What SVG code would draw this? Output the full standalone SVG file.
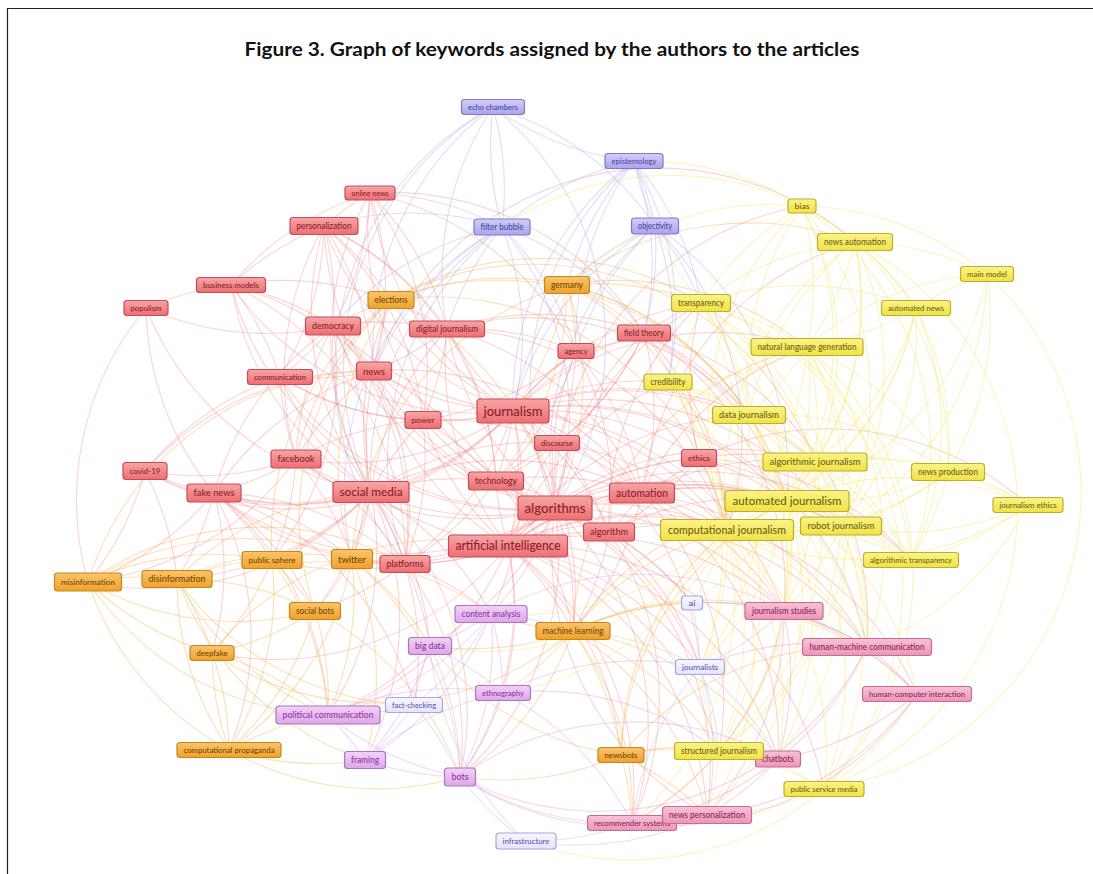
<svg xmlns="http://www.w3.org/2000/svg" width="1093" height="874" viewBox="0 0 1093 874">
<style>
.e path{fill:none;stroke-width:1.15}
.er path{stroke:#f27c7c;stroke-opacity:.32}
.eo path{stroke:#f6b04a;stroke-opacity:.38}
.ey path{stroke:#f5e766;stroke-opacity:.4}
.eb path{stroke:#aaa4e6;stroke-opacity:.35}
.el path{stroke:#c8c4f0;stroke-opacity:.45}
.ev path{stroke:#dc9ee8;stroke-opacity:.38}
.ep path{stroke:#ec92b6;stroke-opacity:.38}
.n rect{stroke-width:1.2}
.n text{font-family:Lato,"Open Sans","Liberation Sans",sans-serif;text-anchor:middle;font-weight:500}
.r rect{fill:url(#gR);stroke:#c94a58}.r text{fill:#8c1c2e}
.o rect{fill:url(#gO);stroke:#c7861a}.o text{fill:#744306}
.y rect{fill:url(#gY);stroke:#bfae2a}.y text{fill:#6b6310}
.b rect{fill:url(#gB);stroke:#7f78d0}.b text{fill:#4a43a6}
.l rect{fill:url(#gL);stroke:#a9a4de}.l text{fill:#5b55b5}
.v rect{fill:url(#gV);stroke:#ad72c0}.v text{fill:#8a35a2}
.p rect{fill:url(#gP);stroke:#cc6993}.p text{fill:#8e2453}
</style>
<defs>
<linearGradient id="gR" x1="0" y1="0" x2="0" y2="1"><stop offset="0" stop-color="#f7a6a6"/><stop offset="1" stop-color="#ec6f73"/></linearGradient>
<linearGradient id="gO" x1="0" y1="0" x2="0" y2="1"><stop offset="0" stop-color="#f9c56c"/><stop offset="1" stop-color="#f0a22c"/></linearGradient>
<linearGradient id="gY" x1="0" y1="0" x2="0" y2="1"><stop offset="0" stop-color="#faf388"/><stop offset="1" stop-color="#f1e248"/></linearGradient>
<linearGradient id="gB" x1="0" y1="0" x2="0" y2="1"><stop offset="0" stop-color="#d2cef7"/><stop offset="1" stop-color="#aba5ea"/></linearGradient>
<linearGradient id="gL" x1="0" y1="0" x2="0" y2="1"><stop offset="0" stop-color="#f8f7fe"/><stop offset="1" stop-color="#e5e3f8"/></linearGradient>
<linearGradient id="gV" x1="0" y1="0" x2="0" y2="1"><stop offset="0" stop-color="#f3d2f7"/><stop offset="1" stop-color="#dea6e9"/></linearGradient>
<linearGradient id="gP" x1="0" y1="0" x2="0" y2="1"><stop offset="0" stop-color="#f7c3d8"/><stop offset="1" stop-color="#ec96b9"/></linearGradient>
</defs>
<rect width="1093" height="874" fill="#fff"/>
<path d="M7.5 874V8.5H1093" fill="none" stroke="#222" stroke-width="1.2"/>
<text x="552" y="56" font-family="Lato,'Liberation Sans',sans-serif" font-weight="bold" font-size="19" text-anchor="middle" textLength="615" lengthAdjust="spacingAndGlyphs" fill="#111">Figure 3. Graph of keywords assigned by the authors to the articles</text>
<g id="connectors" class="e">
<g class="er">
<path d="M513 411A300 300 0 0 1 555 508"/><path d="M513 411A300 300 0 0 1 508 546"/><path d="M513 411A300 300 0 0 1 371 492"/><path d="M513 411A300 300 0 0 1 496 481"/><path d="M513 411A300 300 0 0 1 557 443"/><path d="M513 411A300 300 0 0 1 423 420"/><path d="M513 411A300 300 0 0 1 374 371"/><path d="M513 411A300 300 0 0 1 333 326"/><path d="M513 411A300 300 0 0 1 447 329"/><path d="M513 411A300 300 0 0 1 324 226"/><path d="M513 411A300 300 0 0 1 370 193"/><path d="M513 411A300 300 0 0 1 644 333"/><path d="M513 411A300 300 0 0 1 576 351"/><path d="M513 411A300 300 0 0 1 699 458"/><path d="M513 411A300 300 0 0 1 642 493"/><path d="M513 411A300 300 0 0 1 609 532"/><path d="M513 411A300 300 0 0 1 787 501"/><path d="M513 411A300 300 0 0 1 727 530"/><path d="M513 411A300 300 0 0 1 815 462"/><path d="M513 411A300 300 0 0 1 749 415"/><path d="M513 411A300 300 0 0 1 668 382"/><path d="M513 411A300 300 0 0 1 701 303"/><path d="M513 411A300 300 0 0 1 296 459"/><path d="M513 411A300 300 0 0 1 214 493"/><path d="M513 411A300 300 0 0 1 405 564"/><path d="M513 411A300 300 0 0 1 280 377"/><path d="M513 411A300 300 0 0 1 231 285"/><path d="M513 411A300 300 0 0 1 145 471"/><path d="M513 411A300 300 0 0 1 391 300"/><path d="M513 411A300 300 0 0 1 567 285"/><path d="M513 411A300 300 0 0 1 573 631"/><path d="M513 411A300 300 0 0 1 491 614"/><path d="M513 411A300 300 0 0 1 700 667"/><path d="M513 411A300 300 0 0 1 784 611"/><path d="M513 411A300 300 0 0 1 867 647"/><path d="M513 411A300 300 0 0 1 841 526"/><path d="M513 411A300 300 0 0 1 807 347"/>
<path d="M555 508A300 300 0 0 1 371 492"/><path d="M555 508A300 300 0 0 1 496 481"/><path d="M555 508A300 300 0 0 1 642 493"/><path d="M555 508A300 300 0 0 1 609 532"/><path d="M555 508A300 300 0 0 1 423 420"/><path d="M555 508A300 300 0 0 1 374 371"/><path d="M555 508A300 300 0 0 1 333 326"/><path d="M555 508A300 300 0 0 1 324 226"/><path d="M555 508A300 300 0 0 1 296 459"/><path d="M555 508A300 300 0 0 1 214 493"/><path d="M555 508A300 300 0 0 1 405 564"/><path d="M555 508A300 300 0 0 1 352 559"/><path d="M555 508A300 300 0 0 1 692 603"/><path d="M555 508A300 300 0 0 1 700 667"/><path d="M555 508A300 300 0 0 1 573 631"/><path d="M555 508A300 300 0 0 1 787 501"/><path d="M555 508A300 300 0 0 1 727 530"/><path d="M555 508A300 300 0 0 1 699 458"/><path d="M555 508A300 300 0 0 1 557 443"/><path d="M555 508A300 300 0 0 1 644 333"/><path d="M555 508A300 300 0 0 1 576 351"/><path d="M555 508A300 300 0 0 1 447 329"/><path d="M555 508A300 300 0 0 1 370 193"/><path d="M555 508A300 300 0 0 1 231 285"/><path d="M555 508A300 300 0 0 1 280 377"/><path d="M555 508A300 300 0 0 1 491 614"/><path d="M555 508A300 300 0 0 1 430 646"/><path d="M555 508A300 300 0 0 1 460 777"/><path d="M555 508A300 300 0 0 1 632 823"/><path d="M555 508A300 300 0 0 1 707 815"/><path d="M555 508A300 300 0 0 1 784 611"/><path d="M555 508A300 300 0 0 1 911 560"/><path d="M555 508A300 300 0 0 1 701 303"/><path d="M555 508A300 300 0 0 1 802 206"/>
<path d="M508 546A300 300 0 0 1 642 493"/><path d="M508 546A300 300 0 0 1 609 532"/><path d="M508 546A300 300 0 0 1 496 481"/><path d="M508 546A300 300 0 0 1 371 492"/><path d="M508 546A300 300 0 0 1 405 564"/><path d="M508 546A300 300 0 0 1 573 631"/><path d="M508 546A300 300 0 0 1 699 458"/><path d="M508 546A300 300 0 0 1 787 501"/><path d="M508 546A300 300 0 0 1 727 530"/><path d="M508 546A300 300 0 0 1 841 526"/><path d="M508 546A300 300 0 0 1 867 647"/><path d="M508 546A300 300 0 0 1 917 694"/><path d="M508 546A300 300 0 0 1 778 759"/><path d="M508 546A300 300 0 0 1 784 611"/><path d="M508 546A300 300 0 0 1 700 667"/><path d="M508 546A300 300 0 0 1 621 755"/><path d="M508 546A300 300 0 0 1 212 653"/><path d="M508 546A300 300 0 0 1 214 493"/><path d="M508 546A300 300 0 0 1 557 443"/><path d="M508 546A300 300 0 0 1 374 371"/><path d="M508 546A300 300 0 0 1 423 420"/><path d="M508 546A300 300 0 0 1 447 329"/><path d="M508 546A300 300 0 0 1 503 693"/><path d="M508 546A300 300 0 0 1 328 715"/><path d="M508 546A300 300 0 0 1 460 777"/><path d="M508 546A300 300 0 0 1 632 823"/><path d="M508 546A300 300 0 0 1 707 815"/><path d="M508 546A300 300 0 0 1 719 751"/><path d="M508 546A300 300 0 0 1 824 789"/><path d="M508 546A300 300 0 0 1 815 462"/><path d="M508 546A300 300 0 0 1 749 415"/><path d="M508 546A300 300 0 0 1 668 382"/>
<path d="M371 492A300 300 0 0 1 296 459"/><path d="M371 492A300 300 0 0 1 214 493"/><path d="M371 492A300 300 0 0 1 352 559"/><path d="M371 492A300 300 0 0 1 405 564"/><path d="M371 492A300 300 0 0 1 374 371"/><path d="M371 492A300 300 0 0 1 333 326"/><path d="M371 492A300 300 0 0 1 423 420"/><path d="M371 492A300 300 0 0 1 280 377"/><path d="M371 492A300 300 0 0 1 272 560"/><path d="M371 492A300 300 0 0 1 88 582"/><path d="M371 492A300 300 0 0 1 177 579"/><path d="M371 492A300 300 0 0 1 315 611"/><path d="M371 492A300 300 0 0 1 145 471"/><path d="M371 492A300 300 0 0 1 146 308"/><path d="M371 492A300 300 0 0 1 231 285"/><path d="M371 492A300 300 0 0 1 391 300"/><path d="M371 492A300 300 0 0 1 324 226"/><path d="M371 492A300 300 0 0 1 370 193"/><path d="M371 492A300 300 0 0 1 447 329"/><path d="M371 492A300 300 0 0 1 491 614"/><path d="M371 492A300 300 0 0 1 430 646"/><path d="M371 492A300 300 0 0 1 328 715"/><path d="M371 492A300 300 0 0 1 460 777"/><path d="M371 492A300 300 0 0 1 365 760"/><path d="M371 492A300 300 0 0 1 414 705"/><path d="M371 492A300 300 0 0 1 496 481"/><path d="M371 492A300 300 0 0 1 642 493"/><path d="M371 492A300 300 0 0 1 557 443"/>
<path d="M296 459A300 300 0 0 1 214 493"/><path d="M296 459A300 300 0 0 1 352 559"/><path d="M296 459A300 300 0 0 1 374 371"/><path d="M296 459A300 300 0 0 1 333 326"/><path d="M296 459A300 300 0 0 1 145 471"/><path d="M296 459A300 300 0 0 1 280 377"/><path d="M296 459A300 300 0 0 1 324 226"/><path d="M296 459A300 300 0 0 1 88 582"/><path d="M296 459A300 300 0 0 1 391 300"/><path d="M296 459A300 300 0 0 1 272 560"/><path d="M296 459A300 300 0 0 1 405 564"/><path d="M296 459A300 300 0 0 1 423 420"/>
<path d="M214 493A300 300 0 0 1 145 471"/><path d="M214 493A300 300 0 0 1 88 582"/><path d="M214 493A300 300 0 0 1 177 579"/><path d="M214 493A300 300 0 0 1 352 559"/><path d="M214 493A300 300 0 0 1 212 653"/><path d="M214 493A300 300 0 0 1 315 611"/><path d="M214 493A300 300 0 0 1 272 560"/><path d="M214 493A300 300 0 0 1 374 371"/><path d="M214 493A300 300 0 0 1 333 326"/><path d="M214 493A300 300 0 0 1 146 308"/><path d="M214 493A300 300 0 0 1 414 705"/><path d="M214 493A300 300 0 0 1 328 715"/><path d="M214 493A300 300 0 0 1 229 750"/><path d="M214 493A300 300 0 0 1 405 564"/>
<path d="M145 471A300 300 0 0 1 88 582"/><path d="M145 471A300 300 0 0 1 177 579"/><path d="M145 471A300 300 0 0 1 280 377"/><path d="M145 471A300 300 0 0 1 374 371"/>
<path d="M146 308A300 300 0 0 1 231 285"/><path d="M333 326A300 300 0 0 1 146 308"/><path d="M146 308A300 300 0 0 0 88 582"/>
<path d="M231 285A300 300 0 0 1 324 226"/><path d="M231 285A300 300 0 0 1 374 371"/><path d="M231 285A300 300 0 0 1 280 377"/><path d="M231 285A300 300 0 0 1 333 326"/><path d="M231 285A300 300 0 0 1 370 193"/><path d="M231 285A300 300 0 0 1 447 329"/><path d="M231 285A300 300 0 0 1 405 564"/>
<path d="M324 226A300 300 0 0 1 370 193"/><path d="M324 226A300 300 0 0 1 333 326"/><path d="M324 226A300 300 0 0 1 374 371"/><path d="M324 226A300 300 0 0 1 447 329"/><path d="M324 226A300 300 0 0 1 391 300"/><path d="M324 226A300 300 0 0 1 280 377"/><path d="M324 226A300 300 0 0 1 423 420"/><path d="M324 226A300 300 0 0 1 496 481"/>
<path d="M370 193A300 300 0 0 1 447 329"/><path d="M370 193A300 300 0 0 1 374 371"/><path d="M370 193A300 300 0 0 1 333 326"/><path d="M370 193A300 300 0 0 1 576 351"/><path d="M370 193A300 300 0 0 1 644 333"/><path d="M370 193A300 300 0 0 1 423 420"/>
<path d="M333 326A300 300 0 0 1 374 371"/><path d="M333 326A300 300 0 0 1 391 300"/><path d="M333 326A300 300 0 0 1 447 329"/><path d="M333 326A300 300 0 0 1 405 564"/><path d="M333 326A300 300 0 0 1 272 560"/><path d="M333 326A300 300 0 0 1 280 377"/><path d="M333 326A300 300 0 0 1 352 559"/>
<path d="M447 329A300 300 0 0 1 374 371"/><path d="M447 329A300 300 0 0 1 644 333"/><path d="M447 329A300 300 0 0 1 576 351"/><path d="M447 329A300 300 0 0 1 496 481"/><path d="M447 329A300 300 0 0 1 642 493"/><path d="M447 329A300 300 0 0 1 749 415"/><path d="M447 329A300 300 0 0 1 727 530"/><path d="M447 329A300 300 0 0 1 423 420"/>
<path d="M374 371A300 300 0 0 1 423 420"/><path d="M374 371A300 300 0 0 1 496 481"/><path d="M374 371A300 300 0 0 1 405 564"/><path d="M374 371A300 300 0 0 1 391 300"/><path d="M374 371A300 300 0 0 1 280 377"/><path d="M374 371A300 300 0 0 1 855 242"/><path d="M374 371A300 300 0 0 1 642 493"/>
<path d="M644 333A300 300 0 0 1 576 351"/><path d="M644 333A300 300 0 0 1 642 493"/><path d="M644 333A300 300 0 0 1 727 530"/><path d="M644 333A300 300 0 0 1 787 501"/><path d="M644 333A300 300 0 0 1 749 415"/><path d="M644 333A300 300 0 0 1 699 458"/><path d="M644 333A300 300 0 0 1 701 303"/><path d="M644 333A300 300 0 0 1 867 647"/><path d="M644 333A300 300 0 0 1 784 611"/><path d="M644 333A300 300 0 0 1 557 443"/><path d="M644 333A300 300 0 0 1 496 481"/>
<path d="M576 351A300 300 0 0 1 642 493"/><path d="M576 351A300 300 0 0 1 496 481"/><path d="M576 351A300 300 0 0 1 423 420"/><path d="M576 351A300 300 0 0 1 557 443"/><path d="M576 351A300 300 0 0 1 609 532"/>
<path d="M423 420A300 300 0 0 1 496 481"/><path d="M423 420A300 300 0 0 1 405 564"/><path d="M423 420A300 300 0 0 1 557 443"/><path d="M423 420A300 300 0 0 1 280 377"/>
<path d="M496 481A300 300 0 0 1 642 493"/><path d="M496 481A300 300 0 0 1 609 532"/><path d="M496 481A300 300 0 0 1 557 443"/><path d="M496 481A300 300 0 0 1 405 564"/><path d="M496 481A300 300 0 0 1 573 631"/>
<path d="M557 443A300 300 0 0 1 642 493"/><path d="M557 443A300 300 0 0 1 727 530"/><path d="M557 443A300 300 0 0 1 609 532"/>
<path d="M699 458A300 300 0 0 1 642 493"/><path d="M699 458A300 300 0 0 1 787 501"/><path d="M699 458A300 300 0 0 1 815 462"/><path d="M699 458A300 300 0 0 1 727 530"/><path d="M699 458A300 300 0 0 1 701 303"/><path d="M699 458A300 300 0 0 1 911 560"/><path d="M699 458A300 300 0 0 1 1028 505"/><path d="M699 458A300 300 0 0 1 841 526"/><path d="M699 458A300 300 0 0 1 609 532"/>
<path d="M642 493A300 300 0 0 1 609 532"/><path d="M642 493A300 300 0 0 1 787 501"/><path d="M642 493A300 300 0 0 1 727 530"/><path d="M642 493A300 300 0 0 1 841 526"/><path d="M642 493A300 300 0 0 1 815 462"/><path d="M642 493A300 300 0 0 1 807 347"/><path d="M642 493A300 300 0 0 1 855 242"/><path d="M642 493A300 300 0 0 1 784 611"/><path d="M642 493A300 300 0 0 1 867 647"/><path d="M642 493A300 300 0 0 1 778 759"/><path d="M642 493A300 300 0 0 1 719 751"/><path d="M642 493A300 300 0 0 1 573 631"/>
<path d="M609 532A300 300 0 0 1 727 530"/><path d="M609 532A300 300 0 0 1 787 501"/><path d="M609 532A300 300 0 0 1 573 631"/><path d="M609 532A300 300 0 0 1 692 603"/><path d="M609 532A300 300 0 0 1 700 667"/><path d="M609 532A300 300 0 0 1 632 823"/><path d="M609 532A300 300 0 0 1 701 303"/>
<path d="M405 564A300 300 0 0 1 352 559"/><path d="M405 564A300 300 0 0 1 272 560"/><path d="M405 564A300 300 0 0 1 315 611"/><path d="M405 564A300 300 0 0 1 491 614"/><path d="M405 564A300 300 0 0 1 430 646"/><path d="M405 564A300 300 0 0 1 460 777"/>
<path d="M707 815A300 300 0 0 1 555 508"/>
</g>
<g class="eo">
<path d="M88 582A300 300 0 0 1 177 579"/><path d="M88 582A300 300 0 0 0 212 653"/><path d="M88 582A300 300 0 0 1 272 560"/><path d="M88 582A300 300 0 0 1 352 559"/><path d="M88 582A300 300 0 0 0 315 611"/><path d="M88 582A300 300 0 0 0 229 750"/><path d="M88 582A300 300 0 0 0 414 705"/><path d="M88 582A300 300 0 0 1 405 564"/><path d="M88 582A300 300 0 0 1 374 371"/>
<path d="M177 579A300 300 0 0 1 212 653"/><path d="M177 579A300 300 0 0 1 352 559"/><path d="M177 579A300 300 0 0 1 272 560"/><path d="M177 579A300 300 0 0 1 315 611"/><path d="M177 579A300 300 0 0 0 229 750"/><path d="M177 579A300 300 0 0 0 328 715"/><path d="M177 579A300 300 0 0 0 365 760"/><path d="M177 579A300 300 0 0 0 414 705"/><path d="M177 579A300 300 0 0 1 371 492"/>
<path d="M352 559A300 300 0 0 1 272 560"/><path d="M352 559A300 300 0 0 1 315 611"/><path d="M352 559A300 300 0 0 1 391 300"/><path d="M352 559A300 300 0 0 1 328 715"/><path d="M352 559A300 300 0 0 1 365 760"/><path d="M352 559A300 300 0 0 1 460 777"/><path d="M352 559A300 300 0 0 1 229 750"/><path d="M352 559A300 300 0 0 1 491 614"/><path d="M352 559A300 300 0 0 1 430 646"/><path d="M352 559A300 300 0 0 1 567 285"/>
<path d="M272 560A300 300 0 0 1 315 611"/><path d="M272 560A300 300 0 0 1 212 653"/><path d="M272 560A300 300 0 0 1 391 300"/><path d="M272 560A300 300 0 0 1 328 715"/><path d="M272 560A300 300 0 0 1 229 750"/>
<path d="M315 611A300 300 0 0 1 212 653"/><path d="M315 611A300 300 0 0 1 229 750"/><path d="M315 611A300 300 0 0 1 460 777"/><path d="M315 611A300 300 0 0 1 328 715"/><path d="M315 611A300 300 0 0 1 391 300"/>
<path d="M212 653A300 300 0 0 1 229 750"/><path d="M229 750A300 300 0 0 1 212 653"/><path d="M212 653A300 300 0 0 1 328 715"/><path d="M212 653A300 300 0 0 0 573 631"/><path d="M212 653A300 300 0 0 1 508 546"/>
<path d="M229 750A300 300 0 0 1 328 715"/><path d="M229 750A300 300 0 0 0 365 760"/><path d="M229 750A300 300 0 0 0 460 777"/>
<path d="M391 300A300 300 0 0 1 567 285"/><path d="M391 300A300 300 0 0 1 701 303"/><path d="M391 300A300 300 0 0 1 749 415"/><path d="M391 300A300 300 0 0 1 555 508"/><path d="M391 300A300 300 0 0 1 727 530"/><path d="M391 300A300 300 0 0 1 815 462"/>
<path d="M567 285A300 300 0 0 1 576 351"/><path d="M567 285A300 300 0 0 1 644 333"/><path d="M567 285A300 300 0 0 1 701 303"/><path d="M567 285A300 300 0 0 1 787 501"/><path d="M567 285A300 300 0 0 1 807 347"/><path d="M567 285A300 300 0 0 1 513 411"/><path d="M567 285A300 300 0 0 1 555 508"/><path d="M567 285A300 300 0 0 1 855 242"/><path d="M567 285A300 300 0 0 1 727 530"/><path d="M567 285A300 300 0 0 1 749 415"/><path d="M567 285A300 300 0 0 1 496 481"/>
<path d="M573 631A300 300 0 0 1 621 755"/><path d="M573 631A300 300 0 0 1 491 614"/><path d="M573 631A300 300 0 0 1 430 646"/><path d="M573 631A300 300 0 0 1 700 667"/><path d="M573 631A300 300 0 0 1 692 603"/><path d="M573 631A300 300 0 0 1 787 501"/><path d="M573 631A300 300 0 0 1 727 530"/><path d="M573 631A300 300 0 0 1 807 347"/><path d="M573 631A300 300 0 0 1 632 823"/><path d="M573 631A300 300 0 0 1 707 815"/><path d="M573 631A300 300 0 0 1 917 694"/><path d="M573 631A300 300 0 0 1 867 647"/><path d="M573 631A300 300 0 0 1 778 759"/><path d="M573 631A300 300 0 0 1 719 751"/><path d="M573 631A300 300 0 0 1 503 693"/><path d="M573 631A300 300 0 0 1 460 777"/>
<path d="M621 755A300 300 0 0 1 719 751"/><path d="M621 755A300 300 0 0 1 778 759"/><path d="M621 755A300 300 0 0 1 632 823"/><path d="M621 755A300 300 0 0 1 707 815"/><path d="M621 755A300 300 0 0 1 787 501"/><path d="M621 755A300 300 0 0 1 727 530"/><path d="M621 755A300 300 0 0 1 460 777"/><path d="M621 755A300 300 0 0 1 867 647"/><path d="M621 755A300 300 0 0 1 430 646"/>
</g>
<g class="ey">
<path d="M802 206A300 300 0 0 1 855 242"/><path d="M802 206A300 300 0 0 1 916 308"/><path d="M802 206A300 300 0 0 1 807 347"/><path d="M802 206A300 300 0 0 1 787 501"/><path d="M802 206A300 300 0 0 1 815 462"/><path d="M802 206A300 300 0 0 0 727 530"/><path d="M802 206A300 300 0 0 0 701 303"/><path d="M802 206A300 300 0 0 1 987 274"/><path d="M802 206A300 300 0 0 0 634 161"/><path d="M802 206A300 300 0 0 0 502 227"/><path d="M802 206A300 300 0 0 0 567 285"/><path d="M802 206A300 300 0 0 0 749 415"/><path d="M802 206A300 300 0 0 1 841 526"/><path d="M802 206A300 300 0 0 1 911 560"/>
<path d="M855 242A300 300 0 0 1 916 308"/><path d="M855 242A300 300 0 0 1 807 347"/><path d="M855 242A300 300 0 0 1 787 501"/><path d="M855 242A300 300 0 0 1 841 526"/><path d="M855 242A300 300 0 0 0 727 530"/><path d="M855 242A300 300 0 0 1 815 462"/><path d="M855 242A300 300 0 0 1 987 274"/><path d="M855 242A300 300 0 0 1 948 472"/><path d="M855 242A300 300 0 0 0 701 303"/><path d="M855 242A300 300 0 0 0 749 415"/><path d="M855 242A300 300 0 0 1 824 789"/>
<path d="M987 274A300 300 0 0 0 916 308"/><path d="M987 274A300 300 0 0 1 787 501"/><path d="M987 274A300 300 0 0 1 824 789"/><path d="M987 274A300 300 0 0 1 948 472"/><path d="M987 274A300 300 0 0 0 807 347"/><path d="M987 274A300 300 0 0 1 841 526"/>
<path d="M916 308A300 300 0 0 1 807 347"/><path d="M916 308A300 300 0 0 1 787 501"/><path d="M916 308A300 300 0 0 1 841 526"/><path d="M916 308A300 300 0 0 1 948 472"/><path d="M916 308A300 300 0 0 1 815 462"/><path d="M916 308A300 300 0 0 1 727 530"/><path d="M916 308A300 300 0 0 0 701 303"/><path d="M916 308A300 300 0 0 1 911 560"/>
<path d="M701 303A300 300 0 0 1 807 347"/><path d="M701 303A300 300 0 0 1 787 501"/><path d="M701 303A300 300 0 0 1 815 462"/><path d="M701 303A300 300 0 0 1 727 530"/><path d="M701 303A300 300 0 0 1 911 560"/><path d="M701 303A300 300 0 0 1 668 382"/><path d="M701 303A300 300 0 0 1 749 415"/><path d="M701 303A300 300 0 0 1 655 226"/><path d="M701 303A300 300 0 0 1 841 526"/><path d="M701 303A300 300 0 0 1 700 667"/><path d="M701 303A300 300 0 0 1 824 789"/>
<path d="M807 347A300 300 0 0 1 787 501"/><path d="M807 347A300 300 0 0 1 841 526"/><path d="M807 347A300 300 0 0 1 727 530"/><path d="M807 347A300 300 0 0 1 815 462"/><path d="M807 347A300 300 0 0 1 749 415"/><path d="M807 347A300 300 0 0 1 948 472"/><path d="M807 347A300 300 0 0 1 668 382"/><path d="M807 347A300 300 0 0 1 719 751"/><path d="M807 347A300 300 0 0 1 824 789"/><path d="M807 347A300 300 0 0 1 867 647"/>
<path d="M668 382A300 300 0 0 1 749 415"/><path d="M668 382A300 300 0 0 1 787 501"/><path d="M668 382A300 300 0 0 1 727 530"/><path d="M668 382A300 300 0 0 1 815 462"/><path d="M668 382A300 300 0 0 1 841 526"/><path d="M668 382A300 300 0 0 1 719 751"/><path d="M668 382A300 300 0 0 1 700 667"/>
<path d="M749 415A300 300 0 0 1 787 501"/><path d="M749 415A300 300 0 0 1 727 530"/><path d="M749 415A300 300 0 0 1 815 462"/><path d="M749 415A300 300 0 0 1 841 526"/><path d="M749 415A300 300 0 0 1 719 751"/><path d="M749 415A300 300 0 0 1 948 472"/><path d="M749 415A300 300 0 0 1 911 560"/><path d="M749 415A300 300 0 0 1 784 611"/>
<path d="M815 462A300 300 0 0 1 787 501"/><path d="M815 462A300 300 0 0 1 727 530"/><path d="M815 462A300 300 0 0 1 841 526"/><path d="M815 462A300 300 0 0 1 948 472"/><path d="M815 462A300 300 0 0 1 1028 505"/><path d="M815 462A300 300 0 0 1 911 560"/><path d="M815 462A300 300 0 0 1 784 611"/><path d="M815 462A300 300 0 0 1 719 751"/><path d="M815 462A300 300 0 0 1 867 647"/>
<path d="M948 472A300 300 0 0 1 787 501"/><path d="M948 472A300 300 0 0 1 1028 505"/><path d="M948 472A300 300 0 0 1 841 526"/><path d="M948 472A300 300 0 0 1 727 530"/><path d="M948 472A300 300 0 0 1 911 560"/>
<path d="M787 501A300 300 0 0 1 727 530"/><path d="M787 501A300 300 0 0 1 841 526"/><path d="M787 501A300 300 0 0 1 1028 505"/><path d="M787 501A300 300 0 0 1 911 560"/><path d="M787 501A300 300 0 0 1 719 751"/><path d="M787 501A300 300 0 0 1 824 789"/><path d="M787 501A300 300 0 0 1 867 647"/><path d="M787 501A300 300 0 0 1 917 694"/><path d="M787 501A300 300 0 0 1 784 611"/><path d="M787 501A300 300 0 0 1 778 759"/><path d="M787 501A300 300 0 0 1 707 815"/><path d="M787 501A300 300 0 0 1 700 667"/><path d="M787 501A300 300 0 0 1 692 603"/>
<path d="M1028 505A300 300 0 0 1 841 526"/><path d="M1028 505A300 300 0 0 1 911 560"/><path d="M1028 505A300 300 0 0 1 727 530"/><path d="M1028 505A300 300 0 0 1 867 647"/>
<path d="M727 530A300 300 0 0 1 841 526"/><path d="M727 530A300 300 0 0 1 911 560"/><path d="M727 530A300 300 0 0 1 719 751"/><path d="M727 530A300 300 0 0 1 824 789"/><path d="M727 530A300 300 0 0 1 784 611"/><path d="M727 530A300 300 0 0 1 700 667"/><path d="M727 530A300 300 0 0 1 692 603"/><path d="M727 530A300 300 0 0 1 867 647"/><path d="M727 530A300 300 0 0 1 632 823"/><path d="M727 530A300 300 0 0 1 707 815"/><path d="M727 530A300 300 0 0 1 778 759"/><path d="M727 530A300 300 0 0 1 430 646"/><path d="M727 530A300 300 0 0 1 491 614"/><path d="M727 530A300 300 0 0 1 503 693"/>
<path d="M841 526A300 300 0 0 1 911 560"/><path d="M841 526A300 300 0 0 1 719 751"/><path d="M841 526A300 300 0 0 1 824 789"/><path d="M841 526A300 300 0 0 1 867 647"/><path d="M841 526A300 300 0 0 1 778 759"/><path d="M841 526A300 300 0 0 1 784 611"/>
<path d="M719 751A300 300 0 0 1 824 789"/><path d="M719 751A300 300 0 0 1 778 759"/><path d="M719 751A300 300 0 0 1 707 815"/><path d="M719 751A300 300 0 0 1 632 823"/><path d="M719 751A300 300 0 0 1 700 667"/>
<path d="M824 789A300 300 0 0 1 707 815"/><path d="M824 789A300 300 0 0 0 917 694"/><path d="M824 789A300 300 0 0 1 778 759"/><path d="M824 789A300 300 0 0 1 526 841"/>
</g>
<g class="eb">
<path d="M493 107A300 300 0 0 1 502 227"/><path d="M493 107A300 300 0 0 0 502 227"/><path d="M493 107A300 300 0 0 0 634 161"/><path d="M493 107A300 300 0 0 1 655 226"/><path d="M493 107A300 300 0 0 1 555 508"/><path d="M493 107A300 300 0 0 0 371 492"/><path d="M493 107A300 300 0 0 0 447 329"/><path d="M493 107A300 300 0 0 0 374 371"/><path d="M493 107A300 300 0 0 0 405 564"/>
<path d="M634 161A300 300 0 0 1 655 226"/><path d="M634 161A300 300 0 0 0 655 226"/><path d="M634 161A300 300 0 0 0 502 227"/><path d="M634 161A300 300 0 0 0 567 285"/><path d="M634 161A300 300 0 0 0 576 351"/><path d="M634 161A300 300 0 0 1 644 333"/><path d="M634 161A300 300 0 0 1 701 303"/><path d="M634 161A300 300 0 0 0 513 411"/><path d="M634 161A300 300 0 0 0 555 508"/><path d="M634 161A300 300 0 0 1 668 382"/>
<path d="M502 227A300 300 0 0 0 371 492"/><path d="M502 227A300 300 0 0 1 555 508"/><path d="M502 227A300 300 0 0 0 374 371"/><path d="M502 227A300 300 0 0 0 447 329"/><path d="M502 227A300 300 0 0 0 324 226"/><path d="M502 227A300 300 0 0 0 405 564"/><path d="M502 227A300 300 0 0 1 513 411"/><path d="M502 227A300 300 0 0 0 352 559"/><path d="M502 227A300 300 0 0 0 333 326"/><path d="M502 227A300 300 0 0 0 370 193"/><path d="M502 227A300 300 0 0 1 576 351"/><path d="M502 227A300 300 0 0 1 644 333"/>
<path d="M655 226A300 300 0 0 1 701 303"/><path d="M655 226A300 300 0 0 0 567 285"/><path d="M655 226A300 300 0 0 0 576 351"/><path d="M655 226A300 300 0 0 1 644 333"/><path d="M655 226A300 300 0 0 0 513 411"/><path d="M655 226A300 300 0 0 0 555 508"/><path d="M655 226A300 300 0 0 1 727 530"/><path d="M655 226A300 300 0 0 1 787 501"/><path d="M655 226A300 300 0 0 1 668 382"/>
</g>
<g class="el">
<path d="M692 603A300 300 0 0 1 784 611"/><path d="M692 603A300 300 0 0 1 700 667"/><path d="M692 603A300 300 0 0 1 867 647"/>
<path d="M700 667A300 300 0 0 1 719 751"/><path d="M700 667A300 300 0 0 1 707 815"/><path d="M700 667A300 300 0 0 0 632 823"/><path d="M700 667A300 300 0 0 1 778 759"/><path d="M700 667A300 300 0 0 0 784 611"/>
<path d="M414 705A300 300 0 0 1 430 646"/><path d="M414 705A300 300 0 0 0 491 614"/><path d="M414 705A300 300 0 0 1 460 777"/><path d="M414 705A300 300 0 0 1 365 760"/><path d="M414 705A300 300 0 0 1 328 715"/>
<path d="M526 841A300 300 0 0 1 460 777"/><path d="M526 841A300 300 0 0 0 632 823"/><path d="M526 841A300 300 0 0 0 707 815"/><path d="M526 841A300 300 0 0 1 430 646"/>
</g>
<g class="ev">
<path d="M491 614A300 300 0 0 1 430 646"/><path d="M491 614A300 300 0 0 1 503 693"/><path d="M491 614A300 300 0 0 1 328 715"/><path d="M491 614A300 300 0 0 1 460 777"/><path d="M491 614A300 300 0 0 1 365 760"/><path d="M491 614A300 300 0 0 1 573 631"/><path d="M491 614A300 300 0 0 1 784 611"/>
<path d="M430 646A300 300 0 0 1 503 693"/><path d="M430 646A300 300 0 0 1 460 777"/><path d="M430 646A300 300 0 0 1 328 715"/><path d="M430 646A300 300 0 0 1 365 760"/>
<path d="M503 693A300 300 0 0 1 460 777"/><path d="M503 693A300 300 0 0 1 700 667"/><path d="M503 693A300 300 0 0 1 719 751"/><path d="M503 693A300 300 0 0 1 632 823"/>
<path d="M328 715A300 300 0 0 1 365 760"/><path d="M328 715A300 300 0 0 0 460 777"/><path d="M328 715A300 300 0 0 1 503 693"/>
<path d="M365 760A300 300 0 0 0 460 777"/><path d="M365 760A300 300 0 0 1 503 693"/>
<path d="M460 777A300 300 0 0 0 632 823"/><path d="M460 777A300 300 0 0 0 707 815"/><path d="M460 777A300 300 0 0 1 778 759"/>
</g>
<g class="ep">
<path d="M784 611A300 300 0 0 1 867 647"/><path d="M784 611A300 300 0 0 1 917 694"/><path d="M784 611A300 300 0 0 1 778 759"/><path d="M784 611A300 300 0 0 1 707 815"/><path d="M784 611A300 300 0 0 1 632 823"/>
<path d="M867 647A300 300 0 0 1 917 694"/><path d="M867 647A300 300 0 0 1 778 759"/><path d="M867 647A300 300 0 0 1 460 777"/><path d="M867 647A300 300 0 0 0 700 667"/>
<path d="M917 694A300 300 0 0 1 778 759"/><path d="M917 694A300 300 0 0 1 707 815"/><path d="M917 694A300 300 0 0 1 632 823"/>
<path d="M778 759A300 300 0 0 1 707 815"/><path d="M778 759A300 300 0 0 1 632 823"/>
<path d="M632 823A300 300 0 0 1 707 815"/>
</g>
</g>
<g id="nodes">
<g id="n-online-news" class="n r"><rect x="345" y="186" width="50" height="14" rx="3"/><text x="370" y="193" dy="0.35em" font-size="7.5" textLength="37" lengthAdjust="spacingAndGlyphs">online news</text></g>
<g id="n-personalization" class="n r"><rect x="290" y="217.5" width="68" height="17" rx="3"/><text x="324" y="226" dy="0.35em" font-size="8.5" textLength="55" lengthAdjust="spacingAndGlyphs">personalization</text></g>
<g id="n-business-models" class="n r"><rect x="196.5" y="277.5" width="69" height="15" rx="3"/><text x="231" y="285" dy="0.35em" font-size="7.5" textLength="56" lengthAdjust="spacingAndGlyphs">business models</text></g>
<g id="n-populism" class="n r"><rect x="124" y="300.5" width="44" height="15" rx="3"/><text x="146" y="308" dy="0.35em" font-size="7.5" textLength="31" lengthAdjust="spacingAndGlyphs">populism</text></g>
<g id="n-democracy" class="n r"><rect x="305.5" y="317" width="55" height="18" rx="3"/><text x="333" y="326" dy="0.35em" font-size="9.5" textLength="42" lengthAdjust="spacingAndGlyphs">democracy</text></g>
<g id="n-digital-journalism" class="n r"><rect x="409.5" y="321" width="75" height="16" rx="3"/><text x="447" y="329" dy="0.35em" font-size="8.5" textLength="62" lengthAdjust="spacingAndGlyphs">digital journalism</text></g>
<g id="n-communication" class="n r"><rect x="247.5" y="369.5" width="65" height="15" rx="3"/><text x="280" y="377" dy="0.35em" font-size="7.5" textLength="52" lengthAdjust="spacingAndGlyphs">communication</text></g>
<g id="n-news" class="n r"><rect x="356.5" y="362" width="35" height="18" rx="3"/><text x="374" y="371" dy="0.35em" font-size="10" textLength="22" lengthAdjust="spacingAndGlyphs">news</text></g>
<g id="n-field-theory" class="n r"><rect x="617.5" y="325" width="53" height="16" rx="3"/><text x="644" y="333" dy="0.35em" font-size="8.5" textLength="40" lengthAdjust="spacingAndGlyphs">field theory</text></g>
<g id="n-agency" class="n r"><rect x="558" y="343.5" width="36" height="15" rx="3"/><text x="576" y="351" dy="0.35em" font-size="7.5" textLength="23" lengthAdjust="spacingAndGlyphs">agency</text></g>
<g id="n-power" class="n r"><rect x="405" y="411.5" width="36" height="17" rx="3"/><text x="423" y="420" dy="0.35em" font-size="8" textLength="23" lengthAdjust="spacingAndGlyphs">power</text></g>
<g id="n-journalism" class="n r"><rect x="477" y="399" width="72" height="24" rx="3"/><text x="513" y="411" dy="0.35em" font-size="13" textLength="59" lengthAdjust="spacingAndGlyphs">journalism</text></g>
<g id="n-discourse" class="n r"><rect x="534.5" y="435.5" width="45" height="15" rx="3"/><text x="557" y="443" dy="0.35em" font-size="7.5" textLength="32" lengthAdjust="spacingAndGlyphs">discourse</text></g>
<g id="n-facebook" class="n r"><rect x="271" y="450" width="50" height="18" rx="3"/><text x="296" y="459" dy="0.35em" font-size="9.5" textLength="37" lengthAdjust="spacingAndGlyphs">facebook</text></g>
<g id="n-covid-19" class="n r"><rect x="123" y="462.5" width="44" height="17" rx="3"/><text x="145" y="471" dy="0.35em" font-size="8" textLength="31" lengthAdjust="spacingAndGlyphs">covid-19</text></g>
<g id="n-fake-news" class="n r"><rect x="187" y="484" width="54" height="18" rx="3"/><text x="214" y="493" dy="0.35em" font-size="9.5" textLength="41" lengthAdjust="spacingAndGlyphs">fake news</text></g>
<g id="n-social-media" class="n r"><rect x="333" y="481.5" width="76" height="21" rx="3"/><text x="371" y="492" dy="0.35em" font-size="12" textLength="63" lengthAdjust="spacingAndGlyphs">social media</text></g>
<g id="n-technology" class="n r"><rect x="468.5" y="472" width="55" height="18" rx="3"/><text x="496" y="481" dy="0.35em" font-size="9" textLength="42" lengthAdjust="spacingAndGlyphs">technology</text></g>
<g id="n-algorithms" class="n r"><rect x="518" y="496" width="74" height="24" rx="3"/><text x="555" y="508" dy="0.35em" font-size="13" textLength="61" lengthAdjust="spacingAndGlyphs">algorithms</text></g>
<g id="n-artificial-intelligence" class="n r"><rect x="448.5" y="535" width="119" height="22" rx="3"/><text x="508" y="546" dy="0.35em" font-size="12.5" textLength="105" lengthAdjust="spacingAndGlyphs">artificial intelligence</text></g>
<g id="n-platforms" class="n r"><rect x="380" y="555.5" width="50" height="17" rx="3"/><text x="405" y="564" dy="0.35em" font-size="9" textLength="37" lengthAdjust="spacingAndGlyphs">platforms</text></g>
<g id="n-ethics" class="n r"><rect x="681.5" y="449.5" width="35" height="17" rx="3"/><text x="699" y="458" dy="0.35em" font-size="8" textLength="22" lengthAdjust="spacingAndGlyphs">ethics</text></g>
<g id="n-automation" class="n r"><rect x="609.5" y="483" width="65" height="20" rx="3"/><text x="642" y="493" dy="0.35em" font-size="10.5" textLength="52" lengthAdjust="spacingAndGlyphs">automation</text></g>
<g id="n-algorithm" class="n r"><rect x="583.5" y="523" width="51" height="18" rx="3"/><text x="609" y="532" dy="0.35em" font-size="8.5" textLength="38" lengthAdjust="spacingAndGlyphs">algorithm</text></g>
<g id="n-elections" class="n o"><rect x="368" y="291.5" width="46" height="17" rx="3"/><text x="391" y="300" dy="0.35em" font-size="8.5" textLength="33" lengthAdjust="spacingAndGlyphs">elections</text></g>
<g id="n-germany" class="n o"><rect x="544.5" y="276.5" width="45" height="17" rx="3"/><text x="567" y="285" dy="0.35em" font-size="8.5" textLength="32" lengthAdjust="spacingAndGlyphs">germany</text></g>
<g id="n-public-sphere" class="n o"><rect x="242" y="551.5" width="60" height="17" rx="3"/><text x="272" y="560" dy="0.35em" font-size="8" textLength="47" lengthAdjust="spacingAndGlyphs">public sphere</text></g>
<g id="n-twitter" class="n o"><rect x="331.5" y="549.5" width="41" height="19" rx="3"/><text x="352" y="559" dy="0.35em" font-size="10" textLength="28" lengthAdjust="spacingAndGlyphs">twitter</text></g>
<g id="n-misinformation" class="n o"><rect x="54.5" y="573" width="67" height="18" rx="3"/><text x="88" y="582" dy="0.35em" font-size="8" textLength="54" lengthAdjust="spacingAndGlyphs">misinformation</text></g>
<g id="n-disinformation" class="n o"><rect x="142" y="570.5" width="70" height="17" rx="3"/><text x="177" y="579" dy="0.35em" font-size="9.5" textLength="57" lengthAdjust="spacingAndGlyphs">disinformation</text></g>
<g id="n-social-bots" class="n o"><rect x="289.5" y="602.5" width="51" height="17" rx="3"/><text x="315" y="611" dy="0.35em" font-size="8.5" textLength="38" lengthAdjust="spacingAndGlyphs">social bots</text></g>
<g id="n-deepfake" class="n o"><rect x="190" y="645.5" width="44" height="15" rx="3"/><text x="212" y="653" dy="0.35em" font-size="8" textLength="31" lengthAdjust="spacingAndGlyphs">deepfake</text></g>
<g id="n-computational-propaganda" class="n o"><rect x="177" y="742.5" width="104" height="15" rx="3"/><text x="229" y="750" dy="0.35em" font-size="8" textLength="91" lengthAdjust="spacingAndGlyphs">computational propaganda</text></g>
<g id="n-machine-learning" class="n o"><rect x="536" y="622.5" width="74" height="17" rx="3"/><text x="573" y="631" dy="0.35em" font-size="8.5" textLength="61" lengthAdjust="spacingAndGlyphs">machine learning</text></g>
<g id="n-newsbots" class="n o"><rect x="598" y="747.5" width="46" height="15" rx="3"/><text x="621" y="755" dy="0.35em" font-size="8" textLength="33" lengthAdjust="spacingAndGlyphs">newsbots</text></g>
<g id="n-bias" class="n y"><rect x="788" y="199" width="28" height="14" rx="3"/><text x="802" y="206" dy="0.35em" font-size="8" textLength="15" lengthAdjust="spacingAndGlyphs">bias</text></g>
<g id="n-news-automation" class="n y"><rect x="817.5" y="233.5" width="75" height="17" rx="3"/><text x="855" y="242" dy="0.35em" font-size="8.5" textLength="62" lengthAdjust="spacingAndGlyphs">news automation</text></g>
<g id="n-main-model" class="n y"><rect x="960.5" y="266.5" width="53" height="15" rx="3"/><text x="987" y="274" dy="0.35em" font-size="8" textLength="40" lengthAdjust="spacingAndGlyphs">main model</text></g>
<g id="n-transparency" class="n y"><rect x="671.5" y="294.5" width="59" height="17" rx="3"/><text x="701" y="303" dy="0.35em" font-size="8.5" textLength="46" lengthAdjust="spacingAndGlyphs">transparency</text></g>
<g id="n-automated-news" class="n y"><rect x="881.5" y="300.5" width="69" height="15" rx="3"/><text x="916" y="308" dy="0.35em" font-size="7.5" textLength="56" lengthAdjust="spacingAndGlyphs">automated news</text></g>
<g id="n-natural-language-generation" class="n y"><rect x="751" y="338.5" width="112" height="17" rx="3"/><text x="807" y="347" dy="0.35em" font-size="8.5" textLength="99" lengthAdjust="spacingAndGlyphs">natural language generation</text></g>
<g id="n-credibility" class="n y"><rect x="644" y="374" width="48" height="16" rx="3"/><text x="668" y="382" dy="0.35em" font-size="8.5" textLength="35" lengthAdjust="spacingAndGlyphs">credibility</text></g>
<g id="n-data-journalism" class="n y"><rect x="712.5" y="406.5" width="73" height="17" rx="3"/><text x="749" y="415" dy="0.35em" font-size="8.5" textLength="60" lengthAdjust="spacingAndGlyphs">data journalism</text></g>
<g id="n-algorithmic-journalism" class="n y"><rect x="763" y="453" width="104" height="18" rx="3"/><text x="815" y="462" dy="0.35em" font-size="9.5" textLength="91" lengthAdjust="spacingAndGlyphs">algorithmic journalism</text></g>
<g id="n-news-production" class="n y"><rect x="911.5" y="463.5" width="73" height="17" rx="3"/><text x="948" y="472" dy="0.35em" font-size="8.5" textLength="60" lengthAdjust="spacingAndGlyphs">news production</text></g>
<g id="n-automated-journalism" class="n y"><rect x="725" y="490.5" width="124" height="21" rx="3"/><text x="787" y="501" dy="0.35em" font-size="11.5" textLength="109" lengthAdjust="spacingAndGlyphs">automated journalism</text></g>
<g id="n-journalism-ethics" class="n y"><rect x="993" y="497.5" width="70" height="15" rx="3"/><text x="1028" y="505" dy="0.35em" font-size="7.5" textLength="57" lengthAdjust="spacingAndGlyphs">journalism ethics</text></g>
<g id="n-computational-journalism" class="n y"><rect x="660.5" y="519.5" width="133" height="21" rx="3"/><text x="727" y="530" dy="0.35em" font-size="11.5" textLength="118" lengthAdjust="spacingAndGlyphs">computational journalism</text></g>
<g id="n-robot-journalism" class="n y"><rect x="800.5" y="517" width="81" height="18" rx="3"/><text x="841" y="526" dy="0.35em" font-size="9.5" textLength="67" lengthAdjust="spacingAndGlyphs">robot journalism</text></g>
<g id="n-algorithmic-transparency" class="n y"><rect x="863.5" y="552.5" width="95" height="15" rx="3"/><text x="911" y="560" dy="0.35em" font-size="7.5" textLength="82" lengthAdjust="spacingAndGlyphs">algorithmic transparency</text></g>
<g id="n-echo-chambers" class="n b"><rect x="461.5" y="99.5" width="63" height="15" rx="3"/><text x="493" y="107" dy="0.35em" font-size="8" textLength="50" lengthAdjust="spacingAndGlyphs">echo chambers</text></g>
<g id="n-epistemology" class="n b"><rect x="605" y="153.5" width="58" height="15" rx="3"/><text x="634" y="161" dy="0.35em" font-size="8" textLength="45" lengthAdjust="spacingAndGlyphs">epistemology</text></g>
<g id="n-filter-bubble" class="n b"><rect x="474" y="219" width="56" height="16" rx="3"/><text x="502" y="227" dy="0.35em" font-size="9" textLength="43" lengthAdjust="spacingAndGlyphs">filter bubble</text></g>
<g id="n-objectivity" class="n b"><rect x="631.5" y="218" width="47" height="16" rx="3"/><text x="655" y="226" dy="0.35em" font-size="8.5" textLength="34" lengthAdjust="spacingAndGlyphs">objectivity</text></g>
<g id="n-ai" class="n l"><rect x="681.5" y="596" width="21" height="14" rx="3"/><text x="692" y="603" dy="0.35em" font-size="8" textLength="7" lengthAdjust="spacingAndGlyphs">ai</text></g>
<g id="n-journalists" class="n l"><rect x="675.5" y="659.5" width="49" height="15" rx="3"/><text x="700" y="667" dy="0.35em" font-size="8" textLength="36" lengthAdjust="spacingAndGlyphs">journalists</text></g>
<g id="n-fact-checking" class="n l"><rect x="385.5" y="697.5" width="57" height="15" rx="3"/><text x="414" y="705" dy="0.35em" font-size="8" textLength="44" lengthAdjust="spacingAndGlyphs">fact-checking</text></g>
<g id="n-infrastructure" class="n l"><rect x="496" y="833" width="60" height="16" rx="3"/><text x="526" y="841" dy="0.35em" font-size="8" textLength="47" lengthAdjust="spacingAndGlyphs">infrastructure</text></g>
<g id="n-content-analysis" class="n v"><rect x="455" y="605.5" width="72" height="17" rx="3"/><text x="491" y="614" dy="0.35em" font-size="8.5" textLength="59" lengthAdjust="spacingAndGlyphs">content analysis</text></g>
<g id="n-big-data" class="n v"><rect x="408.5" y="637.5" width="43" height="17" rx="3"/><text x="430" y="646" dy="0.35em" font-size="9" textLength="30" lengthAdjust="spacingAndGlyphs">big data</text></g>
<g id="n-ethnography" class="n v"><rect x="475.5" y="685.5" width="55" height="15" rx="3"/><text x="503" y="693" dy="0.35em" font-size="8" textLength="42" lengthAdjust="spacingAndGlyphs">ethnography</text></g>
<g id="n-political-communication" class="n v"><rect x="276" y="706" width="104" height="18" rx="3"/><text x="328" y="715" dy="0.35em" font-size="9.5" textLength="91" lengthAdjust="spacingAndGlyphs">political communication</text></g>
<g id="n-framing" class="n v"><rect x="344.5" y="751.5" width="41" height="17" rx="3"/><text x="365" y="760" dy="0.35em" font-size="9" textLength="28" lengthAdjust="spacingAndGlyphs">framing</text></g>
<g id="n-bots" class="n v"><rect x="444.5" y="768" width="31" height="18" rx="3"/><text x="460" y="777" dy="0.35em" font-size="9.5" textLength="17" lengthAdjust="spacingAndGlyphs">bots</text></g>
<g id="n-journalism-studies" class="n p"><rect x="745" y="602.5" width="78" height="17" rx="3"/><text x="784" y="611" dy="0.35em" font-size="8.5" textLength="64" lengthAdjust="spacingAndGlyphs">journalism studies</text></g>
<g id="n-human-machine-communication" class="n p"><rect x="802.5" y="638.5" width="129" height="17" rx="3"/><text x="867" y="647" dy="0.35em" font-size="8.5" textLength="115" lengthAdjust="spacingAndGlyphs">human-machine communication</text></g>
<g id="n-human-computer-interaction" class="n p"><rect x="862.5" y="686.5" width="109" height="15" rx="3"/><text x="917" y="694" dy="0.35em" font-size="8" textLength="96" lengthAdjust="spacingAndGlyphs">human-computer interaction</text></g>
<g id="n-chatbots" class="n p"><rect x="755.5" y="751" width="45" height="16" rx="3"/><text x="778" y="759" dy="0.35em" font-size="9" textLength="32" lengthAdjust="spacingAndGlyphs">chatbots</text></g>
<g id="n-recommender-systems" class="n p"><rect x="587.5" y="815.5" width="89" height="15" rx="3"/><text x="632" y="823" dy="0.35em" font-size="8" textLength="76" lengthAdjust="spacingAndGlyphs">recommender systems</text></g>
<g id="n-news-personalization" class="n p"><rect x="662.5" y="806.5" width="89" height="17" rx="3"/><text x="707" y="815" dy="0.35em" font-size="9" textLength="76" lengthAdjust="spacingAndGlyphs">news personalization</text></g>
<g id="n-structured-journalism" class="n y"><rect x="674.5" y="742.5" width="89" height="17" rx="3"/><text x="719" y="751" dy="0.35em" font-size="8.5" textLength="76" lengthAdjust="spacingAndGlyphs">structured journalism</text></g>
<g id="n-public-service-media" class="n y"><rect x="784" y="781.5" width="80" height="15" rx="3"/><text x="824" y="789" dy="0.35em" font-size="8" textLength="67" lengthAdjust="spacingAndGlyphs">public service media</text></g>
</g>
</svg>
